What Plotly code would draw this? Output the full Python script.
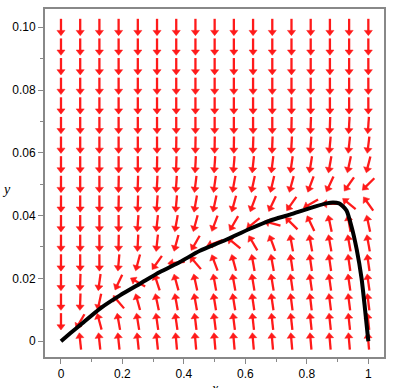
import numpy as np
import plotly.graph_objects as go

# ---------------- data ----------------
# direction-field grid (17 x 17)
grid_x = [i / 16 for i in range(17)]
grid_y = [j * 0.00625 for j in range(17)]

# arrow directions on screen, degrees counter-clockwise from +x
# (270 = straight down, 90 = straight up); rows listed from y=0.1 down to y=0
arrow_dir_rows = [
    [270]*17,                                                                  # y=0.1
    [270]*17,
    [270]*17,
    [270]*17,
    [270]*17,
    [270]*12 + [269, 268, 268, 267, 266],                                      # y=0.06875
    [270]*6 + [269, 269, 269, 269, 268, 268, 267, 266, 265, 264, 263],         # y=0.0625
    [270, 270, 270, 270, 270, 269, 268, 267, 266, 265, 264, 263, 262, 261, 260, 258, 256],
    [270, 270, 270, 269, 268, 267, 266, 263, 262, 260, 258, 257, 255, 250, 245, 235, 225],
    [270, 270, 270, 269, 268, 266, 265, 260, 258, 255, 250, 245, 235, 210, 180, 140, 125],
    [270, 270, 270, 270, 266, 264, 260, 255, 250, 240, 220, 165, 135, 115, 102, 100, 102],
    [270, 270, 270, 269, 267, 264, 255, 240, 200, 140, 120, 110, 100, 100, 100, 100, 100],
    [270, 270, 270, 265, 255, 235, 185, 130, 110, 105, 100, 100, 98, 98, 98, 98, 98],
    [270, 268, 262, 245, 150, 108, 105, 102, 100, 100, 99, 99, 98, 98, 98, 98, 98],
    [270, 268, 258, 130, 105, 102, 100, 100, 99, 99, 98, 98, 97, 97, 97, 97, 97],
    [270, 240, 105, 100, 99, 98, 98, 97, 97, 97, 96, 96, 96, 96, 96, 96, 96],
    [None, 96, 96, 96, 96, 96, 95, 95, 95, 95, 95, 95, 95, 95, 95, 95, 95],   # y=0
]

# solution curve
curve_x = [0, 0.031, 0.062, 0.127, 0.192, 0.257, 0.322, 0.387, 0.452, 0.528, 0.615,
           0.68, 0.745, 0.81, 0.864, 0.885, 0.905, 0.918, 0.929, 0.945, 0.962,
           0.978, 0.989, 1.0]
curve_y = [0, 0.0026, 0.0051, 0.0104, 0.0146, 0.0183, 0.0220, 0.0252, 0.0288, 0.0319,
           0.0358, 0.0384, 0.0403, 0.0424, 0.0439, 0.0442, 0.0439, 0.0429, 0.0416,
           0.0366, 0.0293, 0.0200, 0.0104, 0.0]

x_ticks = [0, 0.2, 0.4, 0.6, 0.8, 1.0]
x_ticklabels = ["0", "0.2", "0.4", "0.6", "0.8", "1"]
y_ticks = [0, 0.02, 0.04, 0.06, 0.08, 0.10]
y_ticklabels = ["0", "0.02", "0.04", "0.06", "0.08", "0.10"]

# ---------------- layout geometry ----------------
W, H = 410, 388
ML, MR, MT, MB = 45, 26, 7, 29
xr = [-0.052, 1.051]
yr = [-0.00504, 0.1058]
plot_w = W - ML - MR
plot_h = H - MT - MB
sx = plot_w / (xr[1] - xr[0])   # px per x unit
sy = plot_h / (yr[1] - yr[0])   # px per y unit

ARROW_LEN = 17.0   # px
HEAD_SIZE = 7.0    # marker size
head_r = HEAD_SIZE / 2

red = "#ff1a1a"
shaft_x, shaft_y = [], []
head_x, head_y, head_ang = [], [], []
nrow = len(arrow_dir_rows)
for r, row in enumerate(arrow_dir_rows):
    yc = grid_y[nrow - 1 - r]
    for c, ang in enumerate(row):
        if ang is None:
            continue
        xc = grid_x[c]
        t = np.deg2rad(ang)
        ux, uy = np.cos(t), np.sin(t)
        half = ARROW_LEN / 2
        tail = (xc - half * ux / sx, yc - half * uy / sy)
        hc = (xc + (half - head_r) * ux / sx, yc + (half - head_r) * uy / sy)
        shaft_x += [tail[0], hc[0], None]
        shaft_y += [tail[1], hc[1], None]
        head_x.append(hc[0])
        head_y.append(hc[1])
        head_ang.append(90 - ang)

fig = go.Figure()
fig.add_trace(go.Scatter(x=shaft_x, y=shaft_y, mode="lines",
                         line=dict(color=red, width=2.3), hoverinfo="skip",
                         showlegend=False))
fig.add_trace(go.Scatter(x=head_x, y=head_y, mode="markers",
                         marker=dict(symbol="triangle-up", size=HEAD_SIZE,
                                     color=red, angle=head_ang,
                                     line=dict(width=0.5, color=red)),
                         hoverinfo="skip", showlegend=False))
fig.add_trace(go.Scatter(x=curve_x, y=curve_y, mode="lines",
                         line=dict(color="black", width=4, shape="spline",
                                   smoothing=0.6),
                         showlegend=False))

axis_common = dict(showgrid=False, zeroline=False, showline=True,
                   linecolor="#888888", linewidth=2, mirror=True,
                   ticks="outside", ticklen=5, tickwidth=1, tickcolor="#888888",
                   tickfont=dict(family="Liberation Sans", size=12, color="black"))

fig.update_layout(
    width=W, height=H, autosize=False,
    margin=dict(l=ML, r=MR, t=MT, b=MB),
    paper_bgcolor="white", plot_bgcolor="white",
    xaxis=dict(range=xr, tickvals=x_ticks, ticktext=x_ticklabels,
               minor=dict(tickvals=[0.1, 0.3, 0.5, 0.7, 0.9], ticklen=3,
                          tickcolor="#888888", ticks="outside"),
               **axis_common),
    yaxis=dict(range=yr, tickvals=y_ticks, ticktext=y_ticklabels,
               minor=dict(tickvals=[0.01, 0.03, 0.05, 0.07, 0.09], ticklen=3,
                          tickcolor="#888888", ticks="outside"),
               **axis_common),
    annotations=[
        dict(text="<i>y</i>", xref="paper", yref="paper",
             x=(6 - ML) / plot_w, y=(H - MB - 190) / plot_h,
             showarrow=False, xanchor="center", yanchor="middle",
             font=dict(family="Liberation Serif", size=14, color="black")),
        dict(text="<i>x</i>", xref="paper", yref="paper",
             x=0.5, y=(H - MB - 381) / plot_h,
             showarrow=False, xanchor="center", yanchor="top",
             font=dict(family="Liberation Serif", size=14, color="black")),
    ],
)

fig.write_html("out.html", config={"displayModeBar": False},
               post_script="document.body.style.margin='0';document.body.style.padding='0';")
